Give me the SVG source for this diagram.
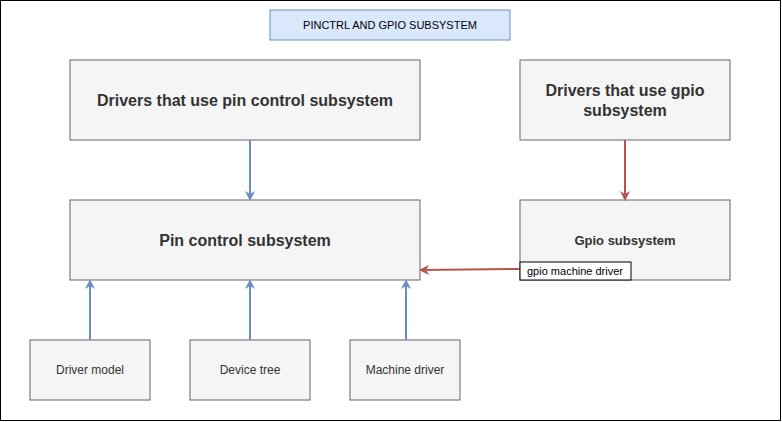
<svg xmlns="http://www.w3.org/2000/svg" width="782" height="422" viewBox="0 0 782 422">
<style>
text{font-family:"Liberation Sans",Arial,sans-serif;fill:#333;text-anchor:middle}
.n{fill:#f5f5f5;stroke:#666;stroke-width:1}
.b{font-weight:bold;font-size:16px}
.s{font-size:12px}
.blue{stroke:#6c8ebf;stroke-width:2;fill:none;marker-end:url(#ab)}
.red{stroke:#b85450;stroke-width:2;fill:none;marker-end:url(#ar)}
</style>
<defs>
<marker id="ab" markerWidth="10" markerHeight="10" refX="8" refY="5" orient="auto" markerUnits="userSpaceOnUse"><path d="M0,0 L10,5 L0,10 L3,5z" fill="#6c8ebf"/></marker>
<marker id="ar" markerWidth="10" markerHeight="10" refX="8" refY="5" orient="auto" markerUnits="userSpaceOnUse"><path d="M0,0 L10,5 L0,10 L3,5z" fill="#b85450"/></marker>
</defs>
<rect x="0.5" y="0.5" width="780" height="420" fill="#fff" stroke="#000"/>
<g id="title"><rect x="270" y="10" width="240" height="30" fill="#dae8fc" stroke="#6c8ebf"/><text x="390" y="29" style="font-size:11px;fill:#000">PINCTRL AND GPIO SUBSYSTEM</text></g>
<g id="drvpin"><rect class="n" x="70" y="60" width="350" height="80"/><text class="b" x="245" y="106">Drivers that use pin control subsystem</text></g>
<g id="drvgpio"><rect class="n" x="520" y="60" width="210" height="80"/><text class="b" x="625" y="96">Drivers that use gpio</text><text class="b" x="625" y="116">subsystem</text></g>
<g id="pinctrl"><rect class="n" x="70" y="200" width="350" height="80"/><text class="b" x="245" y="246">Pin control subsystem</text></g>
<g id="gpio"><rect class="n" x="520" y="200" width="210" height="80"/><text x="625" y="245" style="font-weight:bold;font-size:13px">Gpio subsystem</text></g>
<g id="dm"><rect class="n" x="30" y="340" width="120" height="60"/><text class="s" x="90" y="374">Driver model</text></g>
<g id="dt"><rect class="n" x="190" y="340" width="120" height="60"/><text class="s" x="250" y="374">Device tree</text></g>
<g id="md"><rect class="n" x="350" y="340" width="110" height="60"/><text class="s" x="405" y="374">Machine driver</text></g>
<g id="connectors">
<path class="blue" d="M250,140 V199"/>
<path class="blue" d="M90,340 V281"/>
<path class="blue" d="M250,340 V281"/>
<path class="blue" d="M406,340 V281"/>
<path class="red" d="M625,140 V199"/>
<path class="red" d="M520,269 L421,270"/>
<rect x="520" y="262" width="111" height="18" fill="#fff" stroke="#000"/>
<text x="575" y="275" style="font-size:11px;fill:#000">gpio machine driver</text>
</g>
</svg>
